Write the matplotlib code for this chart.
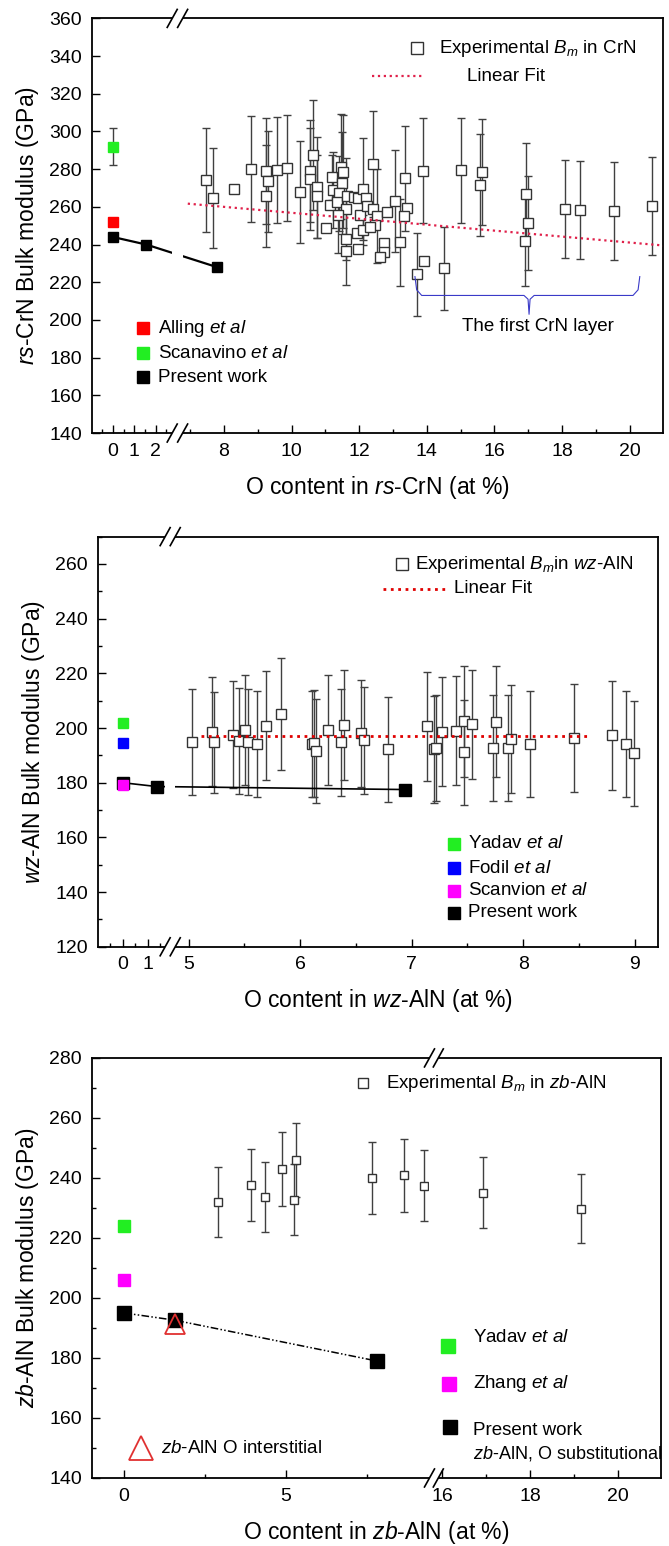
import numpy as np
import matplotlib
matplotlib.use('Agg')
import matplotlib.pyplot as plt
from matplotlib.patches import Rectangle

plt.rcParams['font.family'] = 'Liberation Sans'
plt.rcParams['mathtext.fontset'] = 'custom'
plt.rcParams['mathtext.rm'] = 'Liberation Sans'
plt.rcParams['mathtext.it'] = 'Liberation Sans:italic'
plt.rcParams['mathtext.bf'] = 'Liberation Sans:bold'

# ---------------- rs-CrN (top panel) ----------------
crn_x = [7.46, 7.68, 8.30, 8.80, 9.24, 9.29, 9.25, 9.57, 9.86, 10.25, 10.54, 10.54,
         10.62, 10.76, 10.76, 11.02, 11.19, 11.22, 11.14, 11.46, 11.53, 11.50, 11.40,
         11.33, 11.65, 11.60, 11.38, 11.62, 11.62, 11.96, 11.93, 12.11, 11.85, 11.97,
         12.11, 12.21, 12.03, 12.23, 12.40, 12.42, 12.54, 12.47, 12.32, 12.73, 12.73,
         12.63, 12.81, 13.07, 13.21, 13.36, 13.41, 13.33, 13.88, 13.93, 13.71, 14.52,
         15.00, 15.62, 15.56, 16.94, 16.99, 16.90, 18.10, 18.53, 19.54, 20.65]
crn_y = [274.4, 264.9, 269.3, 280.2, 279.0, 273.5, 265.8, 279.7, 280.6, 267.8, 279.0, 274.6,
         287.5, 270.3, 265.7, 249.0, 275.6, 268.9, 261.0, 281.3, 278.6, 272.5, 267.2,
         262.7, 265.7, 258.7, 255.6, 242.8, 236.7, 237.8, 246.3, 247.7, 265.0, 264.5,
         269.3, 264.8, 255.7, 260.4, 258.7, 282.7, 255.1, 250.4, 249.5, 240.6, 236.2,
         233.5, 257.5, 263.2, 241.2, 275.1, 259.2, 255.3, 279.2, 231.4, 224.2, 227.5,
         279.3, 278.5, 271.4, 266.9, 251.6, 241.9, 258.8, 258.3, 257.7, 260.3]
crn_err = [27.5, 26.5, 0, 28, 28, 27, 27, 28, 28, 27, 27, 27,
           29, 27, 22, 0, 12, 20, 0, 28, 30, 27, 20,
           0, 0, 27, 20, 24, 0, 0, 0, 8, 0, 0,
           27, 0, 0, 0, 0, 28, 25, 0, 0, 0, 0,
           0, 0, 27, 23, 28, 0, 0, 28, 0, 22, 22,
           28, 28, 27, 27, 25, 24, 26, 26, 26, 26]
crn_fit_x = [6.93, 21.0]
crn_fit_y = [261.7, 239.5]
crn_alling = (0, 252)
crn_scanavino = (0, 292, 10)
crn_present_x = [0, 1.56, 7.8]
crn_present_y = [244, 240, 228]
crn_layer_span = (13.65, 20.3)

# ---------------- wz-AlN (middle panel) ----------------
wz_x = [5.03, 5.21, 5.23, 5.40, 5.45, 5.51, 5.53, 5.61, 5.69, 5.83, 6.11, 6.12,
        6.14, 6.25, 6.37, 6.39, 6.55, 6.57, 6.79, 7.14, 7.20, 7.22, 7.27, 7.40,
        7.47, 7.47, 7.54, 7.73, 7.76, 7.86, 7.89, 8.06, 8.46, 8.80, 8.92, 8.99]
wz_y = [194.9, 198.7, 194.8, 197.6, 195.2, 199.3, 194.9, 194.2, 200.9, 205.1, 194.2, 194.4,
        191.5, 199.3, 194.8, 201.1, 198.0, 195.5, 192.2, 200.6, 192.2, 192.7, 198.7, 199.0,
        202.5, 191.1, 201.4, 192.7, 202.3, 192.7, 196.1, 194.2, 196.3, 197.3, 194.2, 190.7]
wz_err = [19.5, 20.0, 18.5, 19.5, 19.5, 20.0, 19.5, 19.5, 20.0, 20.5, 19.5, 19.5,
          19.0, 20.0, 19.5, 20.0, 19.5, 19.5, 19.3, 20.0, 19.5, 19.3, 20.0, 20.0,
          20.3, 19.2, 20.0, 19.3, 20.3, 19.3, 19.8, 19.4, 19.8, 19.8, 19.4, 19.1]
wz_fit_x = [5.11, 8.57]
wz_fit_y = [197.0, 197.0]
wz_yadav = (0, 202)
wz_fodil = (0, 194.5)
wz_scanvion = (0, 179.2)
wz_present_x = [0, 1.35, 6.94]
wz_present_y = [180.0, 178.6, 177.5]

# ---------------- zb-AlN (bottom panel) ----------------
zb_x = [2.89, 3.91, 4.35, 4.87, 5.25, 5.32, 7.65, 8.63, 9.27, 16.93, 19.15]
zb_y = [232.0, 237.7, 233.7, 243.0, 232.8, 246.0, 240.0, 240.9, 237.4, 235.1, 229.8]
zb_err = [11.6, 12.0, 11.7, 12.2, 11.7, 12.3, 12.0, 12.2, 11.8, 11.8, 11.5]
zb_yadav = (0, 224)
zb_zhang = (0, 206)
zb_present_x = [0, 1.56, 7.8]
zb_present_y = [195, 192.6, 179]
zb_interstitial = (1.56, 191.3)

GREEN = '#22ee22'
MAGENTA = '#ff00ff'
EXP_EDGE = '#333333'
ERR_COL = '#404040'


def broken_scale(ax, knots, fracs):
    xs = np.array(knots, float)
    us = np.array(fracs, float)
    s0 = (us[1] - us[0]) / (xs[1] - xs[0])
    s1 = (us[-1] - us[-2]) / (xs[-1] - xs[-2])
    xs_e = np.concatenate([[xs[0] - 1000], xs, [xs[-1] + 1000]])
    us_e = np.concatenate([[us[0] - 1000 * s0], us, [us[-1] + 1000 * s1]])
    fwd = lambda x: np.interp(np.asarray(x, float), xs_e, us_e)
    inv = lambda u: np.interp(np.asarray(u, float), us_e, xs_e)
    ax.set_xscale('function', functions=(fwd, inv))
    ax.set_xlim(xs[0], xs[-1])


def draw_break(ax, u_lo, u_hi):
    fig = ax.figure
    bb = ax.get_position()
    W = fig.get_figwidth() * fig.dpi * bb.width
    H = fig.get_figheight() * fig.dpi * bb.height
    ax.add_patch(Rectangle((u_lo, -0.022), u_hi - u_lo, 1.044, transform=ax.transAxes,
                           facecolor='white', edgecolor='none', clip_on=False, zorder=5))
    sx, sy = 5 / W, 9 / H
    for u in (u_lo, u_hi):
        for v in (0, 1):
            ax.plot([u - sx, u + sx], [v - sy, v + sy], transform=ax.transAxes,
                    color='k', lw=1.2, clip_on=False, zorder=6)


def style_axes(ax, ylabel, xlabel, ymin, ymax, ystep, yminor=None):
    ax.set_ylim(ymin, ymax)
    ax.set_yticks(np.arange(ymin, ymax + 0.1, ystep))
    if yminor:
        ax.set_yticks(np.arange(ymin, ymax + 0.1, yminor), minor=True)
    ax.tick_params(which='both', direction='in', top=False, right=False, width=1.0)
    ax.tick_params(which='major', length=5.5, labelsize=14, pad=7)
    ax.tick_params(which='minor', length=3)
    for s in ax.spines.values():
        s.set_linewidth(1.3)
    ax.set_ylabel(ylabel, fontsize=16.5, labelpad=6)
    ax.set_xlabel(xlabel, fontsize=16.5, labelpad=10)


def exp_points(ax, x, y, err, ms):
    x = np.array(x); y = np.array(y); err = np.array(err)
    m = err > 0
    ax.errorbar(x[m], y[m], yerr=err[m], fmt='none', ecolor=ERR_COL, elinewidth=1.0,
                capsize=3, capthick=1.0, zorder=2)
    ax.plot(x, y, 's', ms=ms, mfc='white', mec=EXP_EDGE, mew=1.0, zorder=3)


def legend_square(ax, u, v, color, ms, text, tu, tv=None, size=13.5):
    ax.plot([u], [v], 's', ms=ms, color=color, transform=ax.transAxes, clip_on=False, zorder=7)
    ax.text(tu, v if tv is None else tv, text, transform=ax.transAxes, fontsize=size,
            va='center', ha='left', zorder=7)


fig = plt.figure(figsize=(6.69, 15.46), dpi=100)

# ================= panel 1 =================
ax1 = fig.add_axes([0.1371, 0.7199, 0.8546, 0.2682])
broken_scale(ax1, [-1, 2.78, 6.78, 21.0], [0, 0.1408, 0.159, 0.9992])
style_axes(ax1, r'$\mathit{rs}$-CrN Bulk modulus (GPa)', r'O content in $\mathit{rs}$-CrN (at %)',
           140, 360, 20)
ax1.set_xticks([0, 1, 2, 8, 10, 12, 14, 16, 18, 20])
ax1.set_xticklabels(['0', '1', '2', '8', '10', '12', '14', '16', '18', '20'])
ax1.set_xticks([-0.5, 0.5, 1.5, 2.5, 7, 9, 11, 13, 15, 17, 19], minor=True)

exp_points(ax1, crn_x, crn_y, crn_err, 6.5)
ax1.plot(crn_fit_x, crn_fit_y, ls=':', color='#e0204a', lw=1.6, zorder=4)
ax1.errorbar([crn_scanavino[0]], [crn_scanavino[1]], yerr=[crn_scanavino[2]], fmt='s', ms=7,
             color=GREEN, ecolor=ERR_COL, elinewidth=1.0, capsize=3, zorder=3)
ax1.plot([crn_alling[0]], [crn_alling[1]], 's', ms=7, color='#ff0000', zorder=3)
ax1.plot(crn_present_x, crn_present_y, '-s', color='k', ms=7, lw=1.6, zorder=3)

# brace for "The first CrN layer"
bx0, bx1 = crn_layer_span
bmid = (bx0 + bx1) / 2 + 0.05
brace_x = [bx0, bx0 + 0.05, bx0 + 0.2, bmid - 0.15, bmid - 0.03, bmid, bmid + 0.03,
           bmid + 0.15, bx1 - 0.2, bx1 - 0.05, bx1]
brace_y = [223, 216, 213, 213, 211, 203, 211, 213, 213, 216, 223]
ax1.plot(brace_x, brace_y, color='#3a3ac8', lw=0.8, zorder=3)
ax1.text(bmid + 0.25, 196.5, 'The first CrN layer', fontsize=13.5, ha='center', va='center')

legend_square(ax1, 0.569, 0.928, 'white', 9, r'Experimental $B_m$ in CrN', 0.608)
ax1.lines[-1].set_markeredgecolor(EXP_EDGE)
ax1.plot([0.490, 0.581], [0.861, 0.861], ls=':', color='#e0204a', lw=1.6,
         transform=ax1.transAxes, zorder=7)
ax1.text(0.657, 0.861, 'Linear Fit', transform=ax1.transAxes, fontsize=13.5, va='center')
legend_square(ax1, 0.0897, 0.253, '#ff0000', 9, r'Alling $\mathit{et\ al}$', 0.116)
legend_square(ax1, 0.0897, 0.193, GREEN, 9, r'Scanavino $\mathit{et\ al}$', 0.116)
legend_square(ax1, 0.0897, 0.135, 'k', 9, 'Present work', 0.116)
draw_break(ax1, 0.1408, 0.159)

# ================= panel 2 =================
ax2 = fig.add_axes([0.1460, 0.3876, 0.8371, 0.2653])
broken_scale(ax2, [-1, 1.69, 4.88, 9.206], [0, 0.1205, 0.1385, 1.0])
style_axes(ax2, r'$\mathit{wz}$-AlN Bulk modulus (GPa)', r'O content in $\mathit{wz}$-AlN (at %)',
           120, 270, 20, 10)
ax2.set_yticks(np.arange(120, 261, 20))
ax2.set_xticks([0, 1, 5, 6, 7, 8, 9])
ax2.set_xticklabels(['0', '1', '5', '6', '7', '8', '9'])
ax2.set_xticks([-0.5, 0.5, 1.5, 5.5, 6.5, 7.5, 8.5], minor=True)

exp_points(ax2, wz_x, wz_y, wz_err, 6.8)
ax2.plot(wz_fit_x, wz_fit_y, ls=':', color='#e00000', lw=2.0, zorder=4)
ax2.plot([wz_yadav[0]], [wz_yadav[1]], 's', ms=6.5, color=GREEN, zorder=3)
ax2.plot([wz_fodil[0]], [wz_fodil[1]], 's', ms=6.5, color='#0000ff', zorder=3)
ax2.plot(wz_present_x, wz_present_y, '-s', color='k', ms=8.5, lw=1.2, zorder=3)
ax2.plot([wz_scanvion[0]], [wz_scanvion[1]], 's', ms=6.5, color=MAGENTA, zorder=4)

legend_square(ax2, 0.543, 0.933, 'white', 9, r'Experimental $B_m$in $\mathit{wz}$-AlN', 0.566)
ax2.lines[-1].set_markeredgecolor(EXP_EDGE)
ax2.plot([0.510, 0.624], [0.873, 0.873], ls=':', color='#e00000', lw=2.0,
         transform=ax2.transAxes, zorder=7)
ax2.text(0.636, 0.873, 'Linear Fit', transform=ax2.transAxes, fontsize=13.5, va='center')
legend_square(ax2, 0.6355, 0.251, GREEN, 9, r'Yadav $\mathit{et\ al}$', 0.662)
legend_square(ax2, 0.6355, 0.192, '#0000ff', 9, r'Fodil $\mathit{et\ al}$', 0.662)
legend_square(ax2, 0.6355, 0.137, MAGENTA, 9, r'Scanvion $\mathit{et\ al}$', 0.662)
legend_square(ax2, 0.6355, 0.083, 'k', 9, 'Present work', 0.662)
draw_break(ax2, 0.1205, 0.1385)

# ================= panel 3 =================
ax3 = fig.add_axes([0.1371, 0.0440, 0.8514, 0.2717])
broken_scale(ax3, [-1, 9.43, 15.91, 20.99], [0, 0.5930, 0.6085, 1.0])
style_axes(ax3, r'$\mathit{zb}$-AlN Bulk modulus (GPa)', r'O content in $\mathit{zb}$-AlN (at %)',
           140, 280, 20, 10)
ax3.set_xticks([0, 5, 16, 18, 20])
ax3.set_xticklabels(['0', '5', '16', '18', '20'])
ax3.set_xticks([2.5, 7.5, 17, 19], minor=True)

exp_points(ax3, zb_x, zb_y, zb_err, 6)
ax3.plot([zb_yadav[0]], [zb_yadav[1]], 's', ms=8, color=GREEN, zorder=3)
ax3.plot([zb_zhang[0]], [zb_zhang[1]], 's', ms=8, color=MAGENTA, zorder=3)
ax3.plot(zb_present_x, zb_present_y, color='k', lw=1.1, dashes=[5, 1.5, 1, 1.5, 1, 1.5], zorder=2)
ax3.plot(zb_present_x, zb_present_y, 's', color='k', ms=10, zorder=3)
ax3.plot([zb_interstitial[0]], [zb_interstitial[1]], '^', ms=15, mfc='none', mec='#e03030',
         mew=1.3, zorder=4)

legend_square(ax3, 0.4756, 0.94, 'white', 7, r'Experimental $B_m$ in $\mathit{zb}$-AlN', 0.517)
ax3.lines[-1].set_markeredgecolor(EXP_EDGE)
legend_square(ax3, 0.6255, 0.314, GREEN, 9.5, r'Yadav $\mathit{et\ al}$', 0.670, 0.334)
legend_square(ax3, 0.6265, 0.223, MAGENTA, 9.5, r'Zhang $\mathit{et\ al}$', 0.670, 0.2255)
legend_square(ax3, 0.629, 0.122, 'k', 9.5, 'Present work', 0.670, 0.114)
ax3.text(0.670, 0.0588, r'$\mathit{zb}$-AlN, O substitutional', transform=ax3.transAxes,
         fontsize=13, va='center', zorder=7)
ax3.plot([0.0862], [0.0707], '^', ms=17, mfc='none', mec='#e03030', mew=1.3,
         transform=ax3.transAxes, zorder=7)
ax3.text(0.122, 0.0707, r'$\mathit{zb}$-AlN O interstitial', transform=ax3.transAxes,
         fontsize=13.5, va='center', zorder=7)
draw_break(ax3, 0.5930, 0.6085)

fig.savefig('out.png', dpi=100)
